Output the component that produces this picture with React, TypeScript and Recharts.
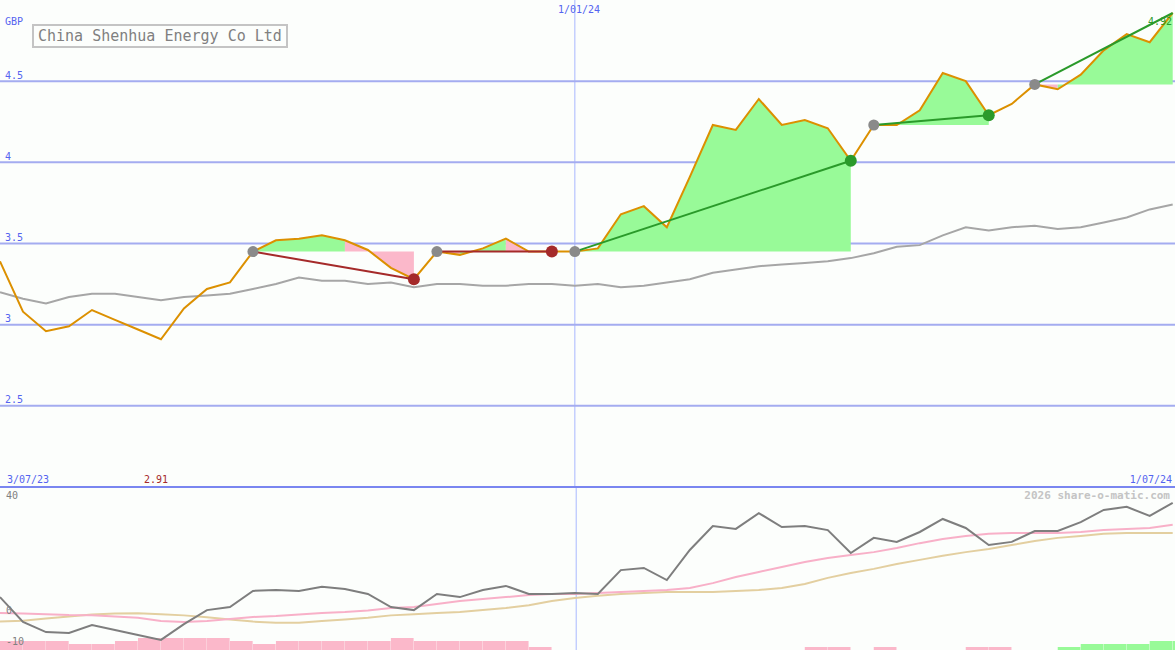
import React from 'react';
import { ComposedChart, Line, Area, Bar, XAxis, YAxis, CartesianGrid } from 'recharts';

// ---------- data (weekly, index 0..51) ----------
const dateLabels = ['3/07/23', '1/01/24', '1/07/24'];
const midIndex = 25;
const priceTicks = [2.5, 3, 3.5, 4, 4.5];

const price = [
  3.39, 3.08, 2.96, 2.99, 3.09, 3.03, 2.97, 2.91, 3.10, 3.22,
  3.26, 3.45, 3.52, 3.53, 3.55, 3.52, 3.46, 3.35, 3.28, 3.45,
  3.43, 3.47, 3.53, 3.45, 3.45, 3.45, 3.47, 3.68, 3.73, 3.60,
  3.91, 4.23, 4.20, 4.39, 4.23, 4.26, 4.21, 4.01, 4.23, 4.23,
  4.32, 4.55, 4.50, 4.29, 4.36, 4.48, 4.45, 4.54, 4.69, 4.79,
  4.74, 4.92,
];
const movingAvg = [
  3.20, 3.16, 3.13, 3.17, 3.19, 3.19, 3.17, 3.15, 3.17, 3.18,
  3.19, 3.22, 3.25, 3.29, 3.27, 3.27, 3.25, 3.26, 3.23, 3.25,
  3.25, 3.24, 3.24, 3.25, 3.25, 3.24, 3.25, 3.23, 3.24, 3.26,
  3.28, 3.32, 3.34, 3.36, 3.37, 3.38, 3.39, 3.41, 3.44, 3.48,
  3.49, 3.55, 3.60, 3.58, 3.60, 3.61, 3.59, 3.60, 3.63, 3.66,
  3.71, 3.74,
];
const oscillator = [
  6.1, -1.9, -5.2, -5.5, -2.9, -4.5, -6.1, -7.7, -2.6, 1.9,
  2.9, 8.1, 8.4, 8.1, 9.4, 8.7, 7.1, 2.9, 1.9, 7.1,
  6.1, 8.4, 9.7, 7.1, 7.1, 7.4, 7.1, 14.8, 15.5, 11.6,
  21.3, 29.0, 28.1, 33.2, 28.7, 29.0, 27.7, 20.3, 25.2, 23.9,
  27.1, 31.3, 28.4, 22.9, 23.9, 27.4, 27.4, 30.3, 34.2, 35.2,
  32.3, 36.5,
];
const signalPink = [
  1.0, 0.8, 0.6, 0.3, 0.2, -0.2, -0.6, -1.6, -1.9, -1.6,
  -1.0, -0.3, 0.0, 0.5, 1.0, 1.3, 1.8, 2.6, 2.9, 3.9,
  4.8, 5.5, 6.1, 6.8, 7.1, 7.1, 7.4, 7.7, 8.1, 8.4,
  9.0, 10.6, 12.6, 14.2, 15.8, 17.4, 18.7, 19.7, 20.6, 21.9,
  23.5, 24.8, 25.8, 26.5, 26.8, 26.8, 26.8, 27.1, 27.7, 28.1,
  28.4, 29.4,
];
const signalTan = [
  -1.8, -1.5, -0.8, -0.2, 0.5, 0.8, 0.9, 0.6, 0.2, -0.4,
  -1.1, -1.8, -2.2, -2.2, -1.6, -1.1, -0.6, 0.2, 0.6, 1.0,
  1.3, 1.9, 2.6, 3.5, 4.8, 5.8, 6.5, 7.1, 7.4, 7.7,
  7.7, 7.7, 8.1, 8.4, 9.0, 10.3, 12.3, 13.9, 15.2, 16.8,
  18.1, 19.4, 20.6, 21.6, 22.9, 24.2, 25.2, 25.8, 26.5, 26.8,
  26.8, 26.8,
];
const volumePink = [
  3, 3, 3, 2, 2, 3, 4, 4, 4, 4,
  3, 2, 3, 3, 3, 3, 3, 4, 3, 3,
  3, 3, 3, 1, 0, 0, 0, 0, 0, 0,
  0, 0, 0, 0, 0, 1, 1, 0, 1, 0,
  0, 0, 1, 1, 0, 0, 0, 0, 0, 0,
  0, 0,
];
const volumeGreen = [
  0, 0, 0, 0, 0, 0, 0, 0, 0, 0,
  0, 0, 0, 0, 0, 0, 0, 0, 0, 0,
  0, 0, 0, 0, 0, 0, 0, 0, 0, 0,
  0, 0, 0, 0, 0, 0, 0, 0, 0, 0,
  0, 0, 0, 0, 0, 0, 1, 2, 2, 2,
  3, 3,
];

const GREEN_FILL = '#98fa98';
const PINK_FILL = '#fbb8ca';
const fills = [
  { anchor: 11, from: 11, to: 15, color: GREEN_FILL },
  { anchor: 11, from: 15, to: 18, color: PINK_FILL },
  { anchor: 19, from: 19, to: 20, color: PINK_FILL },
  { anchor: 19, from: 20, to: 22, color: GREEN_FILL },
  { anchor: 19, from: 22, to: 23, color: PINK_FILL },
  { anchor: 25, from: 25, to: 37, color: GREEN_FILL },
  { anchor: 38, from: 38, to: 43, color: GREEN_FILL },
  { anchor: 45, from: 45, to: 46, color: PINK_FILL },
  { anchor: 45, from: 46, to: 51, color: GREEN_FILL },
];
const trends = [
  { from: 11, to: 18, color: '#a52a2a' },
  { from: 19, to: 24, color: '#a52a2a' },
  { from: 25, to: 37, color: '#2a9a2a' },
  { from: 38, to: 43, color: '#2a9a2a' },
  { from: 45, to: 51, color: '#2a9a2a' },
];
const greyDots = [11, 19, 25, 38, 45];
const redDots = [18, 24];
const greenDots = [37, 43];

// ---------- layout ----------
const W = 1175;
const H1 = 487;
const H2 = 163;
const BG = '#fcfefc';
const GRID = '#a4acf0';
const LABEL_BLUE = '#5464f0';
const MONO = '"DejaVu Sans Mono", monospace';

const rows = price.map((p, i) => {
  const r: any = {
    x: i,
    xb: i + 0.5,
    price: p,
    ma: movingAvg[i],
    osc: oscillator[i],
    sigP: signalPink[i],
    sigT: signalTan[i],
    volP: volumePink[i],
    volG: volumeGreen[i],
    dG: greyDots.includes(i) ? p : null,
    dR: redDots.includes(i) ? p : null,
    dN: greenDots.includes(i) ? p : null,
  };
  fills.forEach((f, k) => {
    r['f' + k] = i >= f.from && i <= f.to ? [price[f.anchor], p] : null;
  });
  trends.forEach((t, k) => {
    r['t' + k] = i === t.from || i === t.to ? p : null;
  });
  return r;
});

const minVal = Math.min(...price);
const lastVal = price[price.length - 1];

const PriceTick = (props: any) => {
  const { y, payload } = props;
  return (
    <text x={5} y={y - 2.5} fill={LABEL_BLUE} fontSize={10} fontFamily={MONO}>
      {String(payload.value)}
    </text>
  );
};

const makeBarShape = (color: string) => (props: any) => {
  const { x, y, width, height } = props;
  if (!height || height <= 0) return <g />;
  return <rect x={x - 1} y={y} width={width + 2} height={height} fill={color} />;
};

export default function App() {
  return (
    <div style={{ position: 'absolute', left: 0, top: 0, width: W, height: 650, background: BG, overflow: 'hidden' }}>
      <div style={{ position: 'absolute', left: 0, top: 0 }}>
        <ComposedChart width={W} height={H1} data={rows} margin={{ top: 0, right: 0, bottom: 0, left: 0 }}>
          <CartesianGrid horizontal={false} vertical verticalValues={[midIndex]} stroke="#a8b8ff" strokeWidth={1} />
          <CartesianGrid vertical={false} horizontal horizontalValues={priceTicks} stroke={GRID} strokeWidth={2} />
          <XAxis type="number" dataKey="x" domain={[0, 51.1]} hide allowDataOverflow />
          <YAxis
            type="number"
            domain={[2, 5]}
            ticks={priceTicks}
            mirror
            axisLine={false}
            tickLine={false}
            tick={<PriceTick />}
            allowDataOverflow
          />
          {fills.map((f, k) => (
            <Area
              key={'f' + k}
              dataKey={'f' + k}
              type="linear"
              stroke="none"
              fill={f.color}
              fillOpacity={1}
              isAnimationActive={false}
              dot={false}
              activeDot={false}
            />
          ))}
          <Line dataKey="ma" type="linear" stroke="#a6a6a6" strokeWidth={2} dot={false} activeDot={false} isAnimationActive={false} />
          <Line dataKey="price" type="linear" stroke="#dc9000" strokeWidth={2} dot={false} activeDot={false} isAnimationActive={false} />
          {trends.map((t, k) => (
            <Line
              key={'t' + k}
              dataKey={'t' + k}
              type="linear"
              stroke={t.color}
              strokeWidth={2}
              connectNulls
              dot={false}
              activeDot={false}
              isAnimationActive={false}
            />
          ))}
          <Line dataKey="dG" stroke="none" dot={{ r: 5.5, fill: '#8a8a8a', stroke: 'none' }} activeDot={false} isAnimationActive={false} />
          <Line dataKey="dR" stroke="none" dot={{ r: 6, fill: '#a52a2a', stroke: 'none' }} activeDot={false} isAnimationActive={false} />
          <Line dataKey="dN" stroke="none" dot={{ r: 6, fill: '#2a9a2a', stroke: 'none' }} activeDot={false} isAnimationActive={false} />
        </ComposedChart>
      </div>
      <div style={{ position: 'absolute', left: 0, top: H1 }}>
        <ComposedChart
          width={W}
          height={H2}
          data={rows}
          margin={{ top: 0, right: 0, bottom: 0, left: 0 }}
          barGap={0}
          barCategoryGap={0}
        >
          <CartesianGrid horizontal={false} vertical verticalValues={[midIndex]} stroke="#a8b8ff" strokeWidth={1} />
          <CartesianGrid vertical={false} horizontal horizontalValues={[0]} stroke={GRID} strokeWidth={2} />
          <XAxis xAxisId="t" type="number" dataKey="x" domain={[0, 51.1]} hide allowDataOverflow />
          <XAxis xAxisId="b" type="number" dataKey="xb" domain={[0, 51.1]} hide allowDataOverflow />
          <YAxis yAxisId="osc" type="number" domain={[-10.97, 41.61]} hide allowDataOverflow />
          <YAxis yAxisId="vol" type="number" domain={[0, 54.33]} hide allowDataOverflow />
          <Bar xAxisId="b" yAxisId="vol" stackId="v" dataKey="volP" fill={PINK_FILL} barSize={23} shape={makeBarShape(PINK_FILL)} isAnimationActive={false} />
          <Bar xAxisId="b" yAxisId="vol" stackId="v" dataKey="volG" fill={GREEN_FILL} barSize={23} shape={makeBarShape(GREEN_FILL)} isAnimationActive={false} />
          <Line xAxisId="t" yAxisId="osc" dataKey="sigT" type="linear" stroke="#e3cfa0" strokeWidth={2} dot={false} activeDot={false} isAnimationActive={false} />
          <Line xAxisId="t" yAxisId="osc" dataKey="sigP" type="linear" stroke="#f8b0c8" strokeWidth={2} dot={false} activeDot={false} isAnimationActive={false} />
          <Line xAxisId="t" yAxisId="osc" dataKey="osc" type="linear" stroke="#7e7e7e" strokeWidth={2} dot={false} activeDot={false} isAnimationActive={false} />
        </ComposedChart>
      </div>
      <svg width={W} height={650} style={{ position: 'absolute', left: 0, top: 0, pointerEvents: 'none' }}>
        <rect x={0} y={486} width={W} height={2} fill="#7a86f0" />
        <rect x={33} y={25} width={254} height={22} fill="#fcfefc" stroke="#c4c4c4" strokeWidth={2} />
        <text x={38} y={41} fontSize={15} fontFamily={MONO} fill="#808080">China Shenhua Energy Co Ltd</text>
        <text x={5} y={25} fontSize={10} fontFamily={MONO} fill={LABEL_BLUE}>GBP</text>
        <text x={579} y={13} fontSize={10} fontFamily={MONO} fill={LABEL_BLUE} textAnchor="middle">{dateLabels[1]}</text>
        <text x={7} y={483} fontSize={10} fontFamily={MONO} fill={LABEL_BLUE}>{dateLabels[0]}</text>
        <text x={1172} y={483} fontSize={10} fontFamily={MONO} fill={LABEL_BLUE} textAnchor="end">{dateLabels[2]}</text>
        <text x={144} y={483} fontSize={10} fontFamily={MONO} fill="#a52a2a">{minVal.toFixed(2)}</text>
        <text x={1172} y={25} fontSize={10} fontFamily={MONO} fill="#2a9a2a" textAnchor="end">{lastVal.toFixed(2)}</text>
        <text x={1170} y={499} fontSize={11} fontFamily={MONO} fontWeight="bold" fill="#c4c4c4" textAnchor="end">2026 share-o-matic.com</text>
        <text x={6} y={499} fontSize={10} fontFamily={MONO} fill="#808080">40</text>
        <text x={6} y={614} fontSize={10} fontFamily={MONO} fill="#808080">0</text>
        <text x={6} y={645} fontSize={10} fontFamily={MONO} fill="#808080">-10</text>
      </svg>
    </div>
  );
}
